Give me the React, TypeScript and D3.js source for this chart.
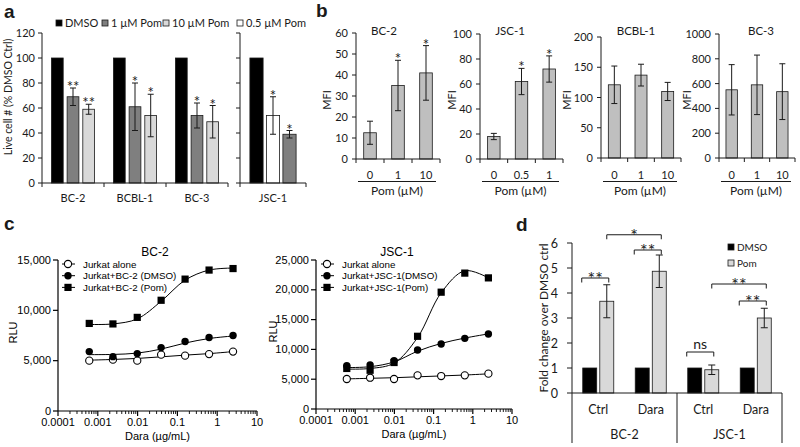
import * as d3 from "d3";

const XL = "Lato, 'Open Sans', sans-serif";
const PRISM = "'Liberation Sans', Arial, sans-serif";
const INK = "#1a1a1a";

// ---------- panel a: live cells ----------
const groupsA = ["BC-2", "BCBL-1", "BC-3"];
const seriesA = ["DMSO", "1 µM Pom", "10 µM Pom"];
const dmsoA = [100, 100, 100];
const pom1A = [69, 61, 54];
const pom1ErrA = [7, 19, 10];
const pom1StarA = ["**", "*", "*"];
const pom10A = [59, 54, 49];
const pom10ErrA = [4, 17, 13];
const pom10StarA = ["**", "*", "*"];
const jscGroupA = "JSC-1";
const jscSeriesA = ["DMSO", "0.5 µM Pom", "1 µM Pom"];
const jscA = [100, 54, 39];
const jscErrA = [0, 15, 3];
const jscStarA = ["", "*", "*"];
const yTicksA = [0, 20, 40, 60, 80, 100, 120];
const legendA = ["DMSO", "1 µM Pom", "10 µM Pom", "0.5 µM Pom"];
const fillA: Record<string, string> = {
  DMSO: "#000000",
  "1 µM Pom": "#7f7f7f",
  "10 µM Pom": "#d9d9d9",
  "0.5 µM Pom": "#ffffff",
};

// ---------- panel b: MFI ----------
const mfiTitles = ["BC-2", "JSC-1", "BCBL-1", "BC-3"];
const mfiDoses = [["0", "1", "10"], ["0", "0.5", "1"], ["0", "1", "10"], ["0", "1", "10"]];
const mfiValues = [[12.5, 35, 41], [18, 62, 72], [121, 137, 110], [550, 590, 535]];
const mfiErrors = [[5.5, 12, 13], [2.5, 10.5, 10.5], [31, 18, 15], [203, 240, 225]];
const mfiStars = [["", "*", "*"], ["", "*", "*"], ["", "", ""], ["", "", ""]];
const mfiTicks = [
  [0, 10, 20, 30, 40, 50, 60],
  [0, 20, 40, 60, 80, 100],
  [0, 50, 100, 150, 200],
  [0, 200, 400, 600, 800, 1000],
];
const mfiLayout = [
  { x0: 356, x1: 440, top: 33, bottom: 159, labelX: 327, titleX: 384 },
  { x0: 480, x1: 563, top: 34, bottom: 159, labelX: 452, titleX: 510 },
  { x0: 601, x1: 681, top: 37, bottom: 158, labelX: 567, titleX: 636 },
  { x0: 719, x1: 795, top: 34, bottom: 158, labelX: 687, titleX: 761 },
];

// ---------- panel c: RLU vs Dara ----------
const daraDoses = [0.00061, 0.0024, 0.0098, 0.039, 0.156, 0.625, 2.5];
const bc2Alone = [5000, 5100, 5000, 5600, 5500, 5650, 5900];
const bc2Dmso = [5900, 5400, 5700, 6300, 6900, 7300, 7500];
const bc2Pom = [8700, 8650, 9300, 11000, 13100, 14000, 14150];
const bc2AloneFit = [5050, 5120, 5220, 5380, 5550, 5700, 5900];
const bc2DmsoFit = [5600, 5620, 5750, 6150, 6750, 7200, 7450];
const bc2PomFit = [8600, 8650, 9150, 10900, 13000, 14000, 14200];
const jscAlone = [5030, 5250, 5030, 5650, 5530, 5650, 5930];
const jscDmso = [7270, 7380, 8100, 9900, 10900, 11850, 12580];
const jscPom = [6800, 6500, 7800, 12200, 19600, 22800, 22000];
const jscAloneFit = [5050, 5150, 5250, 5400, 5550, 5700, 5900];
const jscDmsoFit = [6950, 7100, 7900, 9700, 11000, 11900, 12600];
const jscPomFit = [6700, 6800, 7700, 12000, 19500, 23200, 22000];
const bc2Legend = ["Jurkat alone", "Jurkat+BC-2 (DMSO)", "Jurkat+BC-2 (Pom)"];
const jscLegend = ["Jurkat alone", "Jurkat+JSC-1(DMSO)", "Jurkat+JSC-1(Pom)"];
const logTicks = [0.0001, 0.001, 0.01, 0.1, 1, 10];
const logTickLabels = ["0.0001", "0.001", "0.01", "0.1", "1", "10"];
const bc2YTicks = [0, 5000, 10000, 15000];
const jscYTicks = [0, 5000, 10000, 15000, 20000, 25000];

// ---------- panel d: fold change ----------
const groupsD = ["BC-2 Ctrl", "BC-2 Dara", "JSC-1 Ctrl", "JSC-1 Dara"];
const treatD = ["Ctrl", "Dara", "Ctrl", "Dara"];
const cellLinesD = ["BC-2", "JSC-1"];
const seriesD = ["DMSO", "Pom"];
const dmsoD = [1, 1, 1, 1];
const pomD = [3.67, 4.87, 0.93, 3.0];
const pomErrD = [0.66, 0.65, 0.19, 0.39];
const yTicksD = [0, 1, 2, 3, 4, 5, 6];
const bracketsD = [
  { a: 0, as: "DMSO", b: 0, level: 4.6, label: "**" },
  { a: 0, as: "Pom", b: 1, level: 6.33, label: "*" },
  { a: 1, as: "DMSO", b: 1, level: 5.72, label: "**" },
  { a: 2, as: "DMSO", b: 2, level: 1.64, label: "ns" },
  { a: 2, as: "Pom", b: 3, level: 4.36, label: "**" },
  { a: 3, as: "DMSO", b: 3, level: 3.68, label: "**" },
];

function ErrBar({ x, y1, y2, cap = 3 }: { x: number; y1: number; y2: number; cap?: number }) {
  return (
    <g stroke={INK} strokeWidth={1}>
      <line x1={x} x2={x} y1={y1} y2={y2} />
      <line x1={x - cap} x2={x + cap} y1={y1} y2={y1} />
      <line x1={x - cap} x2={x + cap} y1={y2} y2={y2} />
    </g>
  );
}

function PanelA() {
  const y = d3.scaleLinear().domain([0, 120]).range([183, 33]);
  const gx = d3.scaleBand<string>().domain(groupsA).range([42, 228]);
  const sx = d3.scaleBand<string>().domain(seriesA).range([0, gx.bandwidth()]).paddingInner(0.25).paddingOuter(0.6);
  const jx = d3.scaleBand<string>().domain(jscSeriesA).range([240, 306]).paddingInner(0.2).paddingOuter(0.6);

  const bars: { x: number; w: number; v: number; e: number; star: string; fill: string }[] = [];
  groupsA.forEach((g, i) => {
    const vals = [dmsoA[i], pom1A[i], pom10A[i]];
    const errs = [0, pom1ErrA[i], pom10ErrA[i]];
    const stars = ["", pom1StarA[i], pom10StarA[i]];
    seriesA.forEach((s, j) => {
      bars.push({ x: (gx(g) ?? 0) + (sx(s) ?? 0), w: sx.bandwidth(), v: vals[j], e: errs[j], star: stars[j], fill: fillA[s] });
    });
  });
  jscSeriesA.forEach((s, j) => {
    bars.push({ x: jx(s) ?? 0, w: jx.bandwidth(), v: jscA[j], e: jscErrA[j], star: jscStarA[j], fill: fillA[s] });
  });

  const legendX = [56, 102, 163, 237];

  return (
    <g fontFamily={XL} fill={INK}>
      <text x={4} y={18} fontFamily={PRISM} fontWeight="bold" fontSize={19}>a</text>
      {legendA.map((l, i) => (
        <g key={l}>
          <rect x={legendX[i]} y={20} width={6} height={6} fill={fillA[l]} stroke={INK} strokeWidth={0.8} />
          <text x={legendX[i] + 9} y={26.5} fontSize={11}>{l}</text>
        </g>
      ))}
      {bars.map((b, i) => (
        <g key={i}>
          <rect x={b.x} y={y(b.v)} width={b.w} height={y(0) - y(b.v)} fill={b.fill} stroke={INK} strokeWidth={0.8} />
          {b.e > 0 ? <ErrBar x={b.x + b.w / 2} y1={y(b.v + b.e)} y2={y(b.v - b.e)} /> : null}
          {b.star ? (
            <text x={b.x + b.w / 2} y={y(b.v + b.e) + 4} textAnchor="middle" fontSize={15}>{b.star}</text>
          ) : null}
        </g>
      ))}
      <g stroke={INK} strokeWidth={1}>
        <line x1={42} x2={42} y1={y(120)} y2={y(0)} />
        <line x1={42} x2={228} y1={y(0)} y2={y(0)} />
        {yTicksA.map((t) => <line key={t} x1={38} x2={42} y1={y(t)} y2={y(t)} />)}
        {[...groupsA.map((g) => gx(g) ?? 0), 228].map((t) => <line key={t} x1={t} x2={t} y1={y(0)} y2={y(0) + 4} />)}
        <line x1={240} x2={240} y1={y(120)} y2={y(0)} />
        <line x1={240} x2={306} y1={y(0)} y2={y(0)} />
        {yTicksA.map((t) => <line key={t} x1={236} x2={240} y1={y(t)} y2={y(t)} />)}
        {[240, 306].map((t) => <line key={t} x1={t} x2={t} y1={y(0)} y2={y(0) + 4} />)}
      </g>
      {yTicksA.map((t) => (
        <text key={t} x={35} y={y(t) + 4} textAnchor="end" fontSize={11}>{t}</text>
      ))}
      {groupsA.map((g) => (
        <text key={g} x={(gx(g) ?? 0) + gx.bandwidth() / 2} y={201.5} textAnchor="middle" fontSize={11}>{g}</text>
      ))}
      <text x={273} y={201.5} textAnchor="middle" fontSize={11}>{jscGroupA}</text>
      <text transform={`translate(12, 97) rotate(-90)`} textAnchor="middle" fontSize={10.5}>
        Live cell # (% DMSO Ctrl)
      </text>
    </g>
  );
}

function MfiChart({ idx }: { idx: number }) {
  const L = mfiLayout[idx];
  const ticks = mfiTicks[idx];
  const y = d3.scaleLinear().domain([0, ticks[ticks.length - 1]]).range([L.bottom, L.top]);
  const x = d3.scaleBand<string>().domain(mfiDoses[idx]).range([L.x0, L.x1]).paddingInner(0.55).paddingOuter(0.275);
  const n = mfiDoses[idx].length;
  const edges = d3.range(n + 1).map((k) => L.x0 + (k * (L.x1 - L.x0)) / n);
  return (
    <g fontFamily={XL} fill={INK}>
      <text x={L.titleX} y={35} textAnchor="middle" fontSize={11.5}>{mfiTitles[idx]}</text>
      {mfiDoses[idx].map((d, i) => {
        const v = mfiValues[idx][i];
        const e = mfiErrors[idx][i];
        const bx = x(d) ?? 0;
        const cx = bx + x.bandwidth() / 2;
        return (
          <g key={d}>
            <rect x={bx} y={y(v)} width={x.bandwidth()} height={y(0) - y(v)} fill="#bfbfbf" stroke={INK} strokeWidth={0.8} />
            <ErrBar x={cx} y1={y(v + e)} y2={y(Math.max(v - e, 0))} />
            {mfiStars[idx][i] ? (
              <text x={cx} y={y(v + e) + 4} textAnchor="middle" fontSize={15}>{mfiStars[idx][i]}</text>
            ) : null}
            <text x={cx} y={178.5} textAnchor="middle" fontSize={11}>{d}</text>
          </g>
        );
      })}
      <g stroke={INK} strokeWidth={1}>
        <line x1={L.x0} x2={L.x0} y1={L.top} y2={L.bottom} />
        <line x1={L.x0} x2={L.x1} y1={L.bottom} y2={L.bottom} />
        {ticks.map((t) => <line key={t} x1={L.x0 - 4} x2={L.x0} y1={y(t)} y2={y(t)} />)}
        {edges.map((t, k) => <line key={k} x1={t} x2={t} y1={L.bottom} y2={L.bottom + 4} />)}
        <line x1={L.x0 + 2} x2={L.x1 - 4} y1={181.5} y2={181.5} strokeWidth={1.2} />
      </g>
      {ticks.map((t) => (
        <text key={t} x={L.x0 - 8} y={y(t) + 4} textAnchor="end" fontSize={11}>{t}</text>
      ))}
      <text x={(L.x0 + L.x1) / 2 - 1} y={194.5} textAnchor="middle" fontSize={12}>Pom (µM)</text>
      <text transform={`translate(${L.labelX + 4}, 100) rotate(-90)`} textAnchor="middle" fontSize={11}>MFI</text>
    </g>
  );
}

function PanelB() {
  return (
    <g>
      <text x={316} y={17} fontFamily={PRISM} fontWeight="bold" fontSize={19} fill={INK}>b</text>
      {mfiTitles.map((_, i) => <MfiChart key={i} idx={i} />)}
    </g>
  );
}

type Marker = "open" | "dot" | "square";

function MarkerShape({ kind, x, y }: { kind: Marker; x: number; y: number }) {
  if (kind === "square") return <rect x={x - 3.6} y={y - 3.6} width={7.2} height={7.2} fill="#000" />;
  if (kind === "dot") return <circle cx={x} cy={y} r={3.7} fill="#000" />;
  return <circle cx={x} cy={y} r={3.6} fill="#fff" stroke="#000" strokeWidth={1.1} />;
}

function DoseChart(props: {
  title: string;
  titleX: number;
  x0: number;
  x1: number;
  yBottom: number;
  yTop: number;
  yTicks: number[];
  series: { pts: number[]; fit: number[]; kind: Marker }[];
  legend: string[];
  legendX: number;
  rluX: number;
}) {
  const x = d3.scaleLog().domain([0.0001, 10]).range([props.x0, props.x1]);
  const y = d3.scaleLinear().domain([0, props.yTicks[props.yTicks.length - 1]]).range([props.yBottom, props.yTop]);
  const line = d3
    .line<number>()
    .x((_, i) => x(daraDoses[i]))
    .y((d) => y(d))
    .curve(d3.curveCatmullRom.alpha(0.5));
  const minors: number[] = [];
  logTicks.slice(0, -1).forEach((t) => {
    for (let k = 2; k <= 9; k++) minors.push(t * k);
  });
  const fmt = d3.format(",");
  const kinds: Marker[] = ["open", "dot", "square"];
  return (
    <g fontFamily={PRISM} fill="#000">
      <text x={props.titleX} y={255.5} textAnchor="middle" fontSize={12}>{props.title}</text>
      {props.series.map((s, i) => (
        <path key={i} d={line(s.fit) ?? ""} fill="none" stroke="#000" strokeWidth={1} />
      ))}
      {props.series.map((s, i) =>
        s.pts.map((v, j) => <MarkerShape key={`${i}-${j}`} kind={s.kind} x={x(daraDoses[j])} y={y(v)} />),
      )}
      <g stroke="#000" strokeWidth={1.2}>
        <line x1={props.x0} x2={props.x0} y1={props.yTop} y2={props.yBottom} />
        <line x1={props.x0} x2={props.x1} y1={props.yBottom} y2={props.yBottom} />
        {props.yTicks.map((t) => <line key={t} x1={props.x0 - 5} x2={props.x0} y1={y(t)} y2={y(t)} />)}
        {logTicks.map((t) => <line key={t} x1={x(t)} x2={x(t)} y1={props.yBottom} y2={props.yBottom + 5} />)}
        {minors.map((t) => <line key={t} x1={x(t)} x2={x(t)} y1={props.yBottom} y2={props.yBottom + 3} strokeWidth={0.9} />)}
      </g>
      {props.yTicks.map((t) => (
        <text key={t} x={props.x0 - 7} y={y(t) + 3.5} textAnchor="end" fontSize={11}>{fmt(t)}</text>
      ))}
      {logTicks.map((t, i) => (
        <text key={t} x={x(t)} y={props.yBottom + 15} textAnchor="middle" fontSize={11}>{logTickLabels[i]}</text>
      ))}
      <text x={(props.x0 + props.x1) / 2} y={props.yBottom + 29} textAnchor="middle" fontSize={11}>Dara (µg/mL)</text>
      <text transform={`translate(${props.rluX + 4}, ${(props.yTop + props.yBottom) / 2 - 3}) rotate(-90)`} textAnchor="middle" fontSize={11}>RLU</text>
      {props.legend.map((l, i) => {
        const ly = 264 + i * 11.7;
        return (
          <g key={l}>
            <line x1={props.legendX - 6} x2={props.legendX + 7} y1={ly} y2={ly} stroke="#000" strokeWidth={1} />
            <MarkerShape kind={kinds[i]} x={props.legendX} y={ly} />
            <text x={props.legendX + 15} y={ly + 3.5} fontSize={9.8}>{l}</text>
          </g>
        );
      })}
    </g>
  );
}

function PanelC() {
  return (
    <g>
      <text x={4} y={230} fontFamily={PRISM} fontWeight="bold" fontSize={19} fill={INK}>c</text>
      <DoseChart
        title="BC-2"
        titleX={155}
        x0={58}
        x1={257}
        yBottom={411}
        yTop={260}
        yTicks={bc2YTicks}
        series={[
          { pts: bc2Alone, fit: bc2AloneFit, kind: "open" },
          { pts: bc2Dmso, fit: bc2DmsoFit, kind: "dot" },
          { pts: bc2Pom, fit: bc2PomFit, kind: "square" },
        ]}
        legend={bc2Legend}
        legendX={68}
        rluX={13}
      />
      <DoseChart
        title="JSC-1"
        titleX={397}
        x0={316}
        x1={512}
        yBottom={409}
        yTop={260}
        yTicks={jscYTicks}
        series={[
          { pts: jscAlone, fit: jscAloneFit, kind: "open" },
          { pts: jscDmso, fit: jscDmsoFit, kind: "dot" },
          { pts: jscPom, fit: jscPomFit, kind: "square" },
        ]}
        legend={jscLegend}
        legendX={327}
        rluX={273}
      />
    </g>
  );
}

function PanelD() {
  const y = d3.scaleLinear().domain([0, 6]).range([393, 243]);
  const gx = d3.scaleBand<string>().domain(groupsD).range([572, 782]);
  const sx = d3.scaleBand<string>().domain(seriesD).range([0, gx.bandwidth()]).paddingInner(0.18).paddingOuter(0.63);
  const barX = (g: number, s: string) => (gx(groupsD[g]) ?? 0) + (sx(s) ?? 0);
  const bw = sx.bandwidth();
  const mid = gx(groupsD[2]) ?? 0;
  return (
    <g fontFamily={XL} fill={INK}>
      <text x={516} y={231} fontFamily={PRISM} fontWeight="bold" fontSize={19}>d</text>
      {groupsD.map((g, i) => (
        <g key={g}>
          <rect x={barX(i, "DMSO")} y={y(dmsoD[i])} width={bw} height={y(0) - y(dmsoD[i])} fill="#000" stroke={INK} strokeWidth={0.8} />
          <rect x={barX(i, "Pom")} y={y(pomD[i])} width={bw} height={y(0) - y(pomD[i])} fill="#d9d9d9" stroke={INK} strokeWidth={0.8} />
          <ErrBar x={barX(i, "Pom") + bw / 2} y1={y(pomD[i] + pomErrD[i])} y2={y(pomD[i] - pomErrD[i])} cap={3.5} />
          <text x={(gx(g) ?? 0) + gx.bandwidth() / 2} y={414} textAnchor="middle" fontSize={12.5}>{treatD[i]}</text>
        </g>
      ))}
      {bracketsD.map((b, i) => {
        const xa = b.as === "DMSO" ? barX(b.a, "DMSO") - 1 : barX(b.a, "Pom") + bw / 2;
        const xb = barX(b.b, "Pom") + bw / 2 + 2;
        const by = y(b.level);
        return (
          <g key={i}>
            <path d={`M${xa},${by + 4.5}V${by}H${xb}V${by + 4.5}`} fill="none" stroke={INK} strokeWidth={1} />
            <text x={(xa + xb) / 2} y={b.label === "ns" ? by - 3 : by + 7} textAnchor="middle" fontSize={b.label === "ns" ? 14 : 18}>
              {b.label}
            </text>
          </g>
        );
      })}
      <g stroke={INK} strokeWidth={1}>
        <line x1={572} x2={572} y1={y(6)} y2={443} />
        <line x1={572} x2={782} y1={y(0)} y2={y(0)} />
        <line x1={mid} x2={mid} y1={y(0)} y2={443} />
        <line x1={782} x2={782} y1={y(0)} y2={443} />
        {yTicksD.map((t) => <line key={t} x1={567} x2={572} y1={y(t)} y2={y(t)} />)}
      </g>
      {yTicksD.map((t) => (
        <text key={t} x={558} y={y(t) + 4.5} textAnchor="end" fontSize={12.5}>{t}</text>
      ))}
      {cellLinesD.map((c, i) => (
        <text key={c} x={i === 0 ? (572 + mid) / 2 : (mid + 782) / 2} y={439} textAnchor="middle" fontSize={12.5}>{c}</text>
      ))}
      <text transform={`translate(548, 318) rotate(-90)`} textAnchor="middle" fontSize={12}>
        Fold change over DMSO ctrl
      </text>
      {seriesD.map((s, i) => (
        <g key={s}>
          <rect x={728} y={244 + i * 16} width={6} height={6} fill={i === 0 ? "#000" : "#d9d9d9"} stroke={INK} strokeWidth={0.8} />
          <text x={737} y={250.5 + i * 16} fontSize={10}>{s}</text>
        </g>
      ))}
    </g>
  );
}

export default function App() {
  return (
    <svg
      width={800}
      height={447}
      viewBox="0 0 800 447"
      style={{ position: "absolute", left: 0, top: 0, background: "#fff" }}
    >
      <rect width={800} height={447} fill="#fff" />
      <PanelA />
      <PanelB />
      <PanelC />
      <PanelD />
    </svg>
  );
}
